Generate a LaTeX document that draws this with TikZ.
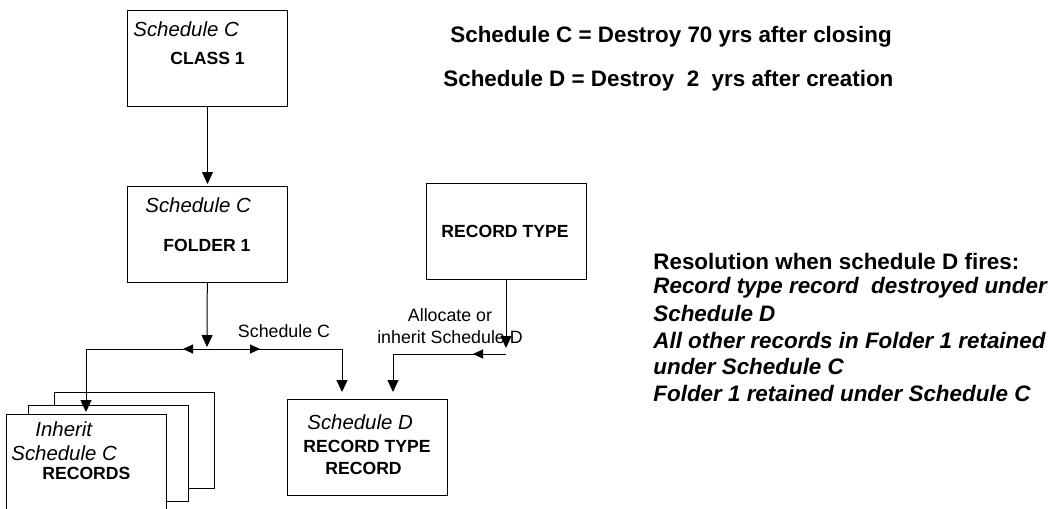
\documentclass[tikz,border=0pt]{standalone}
\usepackage{fontspec}
\setmainfont{Liberation Sans}
\usetikzlibrary{positioning}
\usetikzlibrary{arrows.meta}
\usetikzlibrary{decorations.markings}
\tikzstyle{box}=[draw,rectangle,line width=0.5pt,minimum width=80pt,minimum height=48pt,inner sep=0pt]
\tikzstyle{edge}=[draw,line width=0.5pt,-{Triangle[length=6pt,width=5.5pt]},shorten >=1pt]
\tikzstyle{sched}=[font=\fontsize{10.2}{12}\selectfont\itshape,inner sep=0pt,anchor=west]
\tikzstyle{kind}=[font=\fontsize{8.8}{10.5}\selectfont\bfseries,inner sep=0pt,anchor=west]
\tikzstyle{weight}=[font=\fontsize{8.9}{11}\selectfont,inner sep=0pt]
\tikzstyle{note}=[font=\fontsize{11.2}{13.2}\selectfont\bfseries,inner sep=0pt,anchor=west]
\tikzset{midtip/.style={postaction={decorate},decoration={markings,mark=at position #1 with {\arrow{Triangle[length=5pt,width=4.5pt]}}}}}

\begin{document}
\begin{tikzpicture}[x=0.5pt,y=-0.5pt]

    \useasboundingbox (0,0) rectangle (1052,508);

%Boxes
    \foreach \pos/\name in {{(207.5,58.5)/class}, {(207.5,234.5)/folder}, {(506,231)/rtype}, {(367,447)/rtr}}
        \node[box] (\name) at \pos {};

%Records stack (back to front)
    \foreach \pos/\name in {{(134,440.5)/rec3}, {(108,453.5)/rec2}, {(86,462.5)/rec1}}
        \node[box,fill=white] (\name) at \pos {};

% Edges
    \coordinate (j) at (207,349);
    \coordinate (rin1) at (342,399);
    \coordinate (k) at (506,354);
    \coordinate (rin2) at (393,399);

    \path[edge] (class) -- (folder);
    \path[edge] (folder) -- (j);
    \path[edge,midtip=12pt] (j) -| (rec1);
    \path[edge,midtip=26.5pt,shorten >=3.5pt] (j) -| (rin1);
    \path[edge,shorten >=3pt] (rtype) -- (k);
    \path[edge,midtip=16.5pt,shorten >=3.5pt] (k) -| (rin2);

    \node[weight] (schedc) at (284,331) {Schedule C};
    \node[weight,align=center] (alloc) at (450,326) {Allocate or\\inherit Schedule D};

%Label
    \node[sched] (classs) at (133,29) {Schedule C};
    \node[kind] (classk) at (170,58) {CLASS 1};

    \node[sched] (folders) at (145,205) {Schedule C};
    \node[kind] (folderk) at (163,245) {FOLDER 1};

    \node[kind,anchor=center] (rtypek) at (505,231) {RECORD TYPE};

    \node[sched] (rtrs) at (307,422) {Schedule D};
    \node[kind] (rtrk) at (303,446) {RECORD TYPE};
    \node[kind] (rtrr) at (325,468) {RECORD};

    \node[sched] (reci) at (35,429) {Inherit};
    \node[sched] (recs) at (11,453) {Schedule C};
    \node[kind] (reck) at (42,473) {RECORDS};

%Notes
    \node[note] (defc) at (450,37) {Schedule C = Destroy 70 yrs after closing};
    \node[note] (defd) at (443,81) {Schedule D = Destroy~ 2~ yrs after creation};

    \node[note] (res0) at (653,261) {Resolution when schedule D fires:};
    \foreach \y/\name/\txt in {287.4/res1/{Record type record~ destroyed under}, 313.8/res2/{Schedule D}, 340.2/res3/{All other records in Folder 1 retained}, 366.6/res4/{under Schedule C}, 393/res5/{Folder 1 retained under Schedule C}}
        \node[note,font=\fontsize{11.2}{13.2}\selectfont\bfseries\itshape] (\name) at (653,\y) {\txt};

\end{tikzpicture}
\end{document}
